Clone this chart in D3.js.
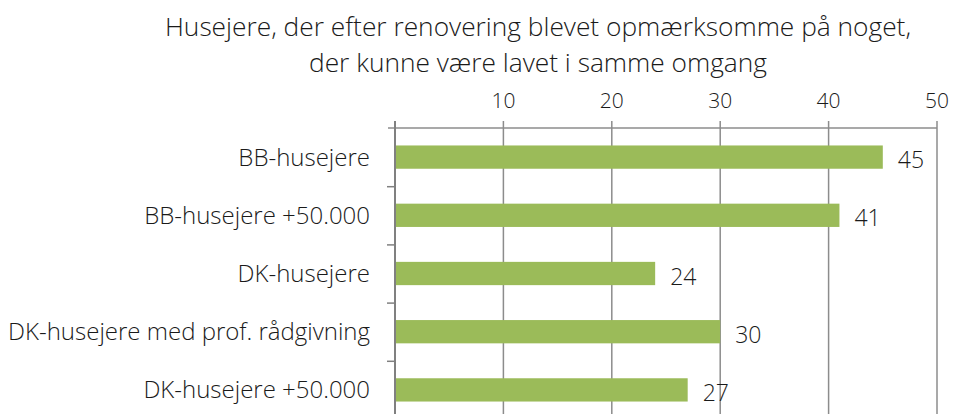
<!DOCTYPE html>
<html>
<head>
<meta charset="utf-8">
<script src="https://cdn.jsdelivr.net/npm/d3@7"></script>
<style>
  body { margin: 0; background: #fff; }
  text { font-family: "Open Sans", sans-serif; font-weight: 350; fill: #1a1a1a; }
</style>
</head>
<body>
<div id="chart"></div>
<script>
// Data
const categories = ["BB-husejere", "BB-husejere +50.000", "DK-husejere",
    "DK-husejere med prof. rådgivning", "DK-husejere +50.000"];
const values = [45, 41, 24, 30, 27];
const tickValues = [10, 20, 30, 40, 50];
const titleLines = ["Husejere, der efter renovering blevet opmærksomme på noget,",
    "der kunne være lavet i samme omgang"];

const width = 954, height = 414;
const margin = { top: 128, right: 17, bottom: -5, left: 395 };

const svg = d3.select("#chart")
    .append("svg")
    .attr("width", width)
    .attr("height", height);

// Scales
const x = d3.scaleLinear()
    .domain([0, 50])
    .range([margin.left, width - margin.right]);

const y = d3.scaleBand()
    .domain(categories)
    .range([margin.top, height - margin.bottom])
    .paddingInner(0.6)
    .paddingOuter(0.3);

// Gridlines (with top tick marks)
svg.append("g")
    .selectAll("line")
    .data(tickValues)
    .join("line")
    .attr("x1", d => x(d))
    .attr("x2", d => x(d))
    .attr("y1", margin.top - 7)
    .attr("y2", height)
    .attr("stroke", "#8c8c8c")
    .attr("stroke-width", 1.5);

// Top axis line
svg.append("line")
    .attr("x1", x(0) - 7)
    .attr("x2", x(50))
    .attr("y1", margin.top)
    .attr("y2", margin.top)
    .attr("stroke", "#8c8c8c")
    .attr("stroke-width", 1.5);

// Top tick at 0
svg.append("line")
    .attr("x1", x(0)).attr("x2", x(0))
    .attr("y1", margin.top - 7).attr("y2", margin.top)
    .attr("stroke", "#808080")
    .attr("stroke-width", 2);

// Top tick labels
svg.append("g")
    .selectAll("text")
    .data(tickValues)
    .join("text")
    .attr("x", d => x(d))
    .attr("y", 108)
    .attr("text-anchor", "middle")
    .style("font-size", "21px")
    .text(d => d);

// Bars
svg.append("g")
    .selectAll("rect")
    .data(values)
    .join("rect")
    .attr("x", x(0))
    .attr("y", (d, i) => y(categories[i]))
    .attr("width", d => x(d) - x(0))
    .attr("height", y.bandwidth())
    .attr("fill", "#9bbb59");

// Left axis with category boundary ticks
const step = y.step();
svg.append("g")
    .selectAll("line")
    .data(categories.slice(1))
    .join("line")
    .attr("x1", x(0) - 8)
    .attr("x2", x(0))
    .attr("y1", d => y(d) - step * 0.3 + 0.5)
    .attr("y2", d => y(d) - step * 0.3 + 0.5)
    .attr("stroke", "#808080")
    .attr("stroke-width", 1.5);

svg.append("line")
    .attr("x1", x(0)).attr("x2", x(0))
    .attr("y1", margin.top).attr("y2", height)
    .attr("stroke", "#808080")
    .attr("stroke-width", 2);

// Category labels
svg.append("g")
    .selectAll("text")
    .data(categories)
    .join("text")
    .attr("x", x(0) - 25)
    .attr("y", d => y(d) + y.bandwidth() / 2)
    .attr("dy", "0.35em")
    .attr("text-anchor", "end")
    .style("font-size", "24px")
    .text(d => d);

// Value labels
svg.append("g")
    .selectAll("text")
    .data(values)
    .join("text")
    .attr("x", d => x(d) + 15)
    .attr("y", (d, i) => y(categories[i]) + y.bandwidth() / 2 + 3)
    .attr("dy", "0.35em")
    .style("font-size", "23px")
    .text(d => d);

// Title
svg.append("text")
    .attr("x", 538)
    .attr("y", 36)
    .attr("text-anchor", "middle")
    .style("font-size", "26.3px")
    .selectAll("tspan")
    .data(titleLines)
    .join("tspan")
    .attr("x", 538)
    .attr("dy", (d, i) => i === 0 ? 0 : 36)
    .text(d => d);
</script>
</body>
</html>
